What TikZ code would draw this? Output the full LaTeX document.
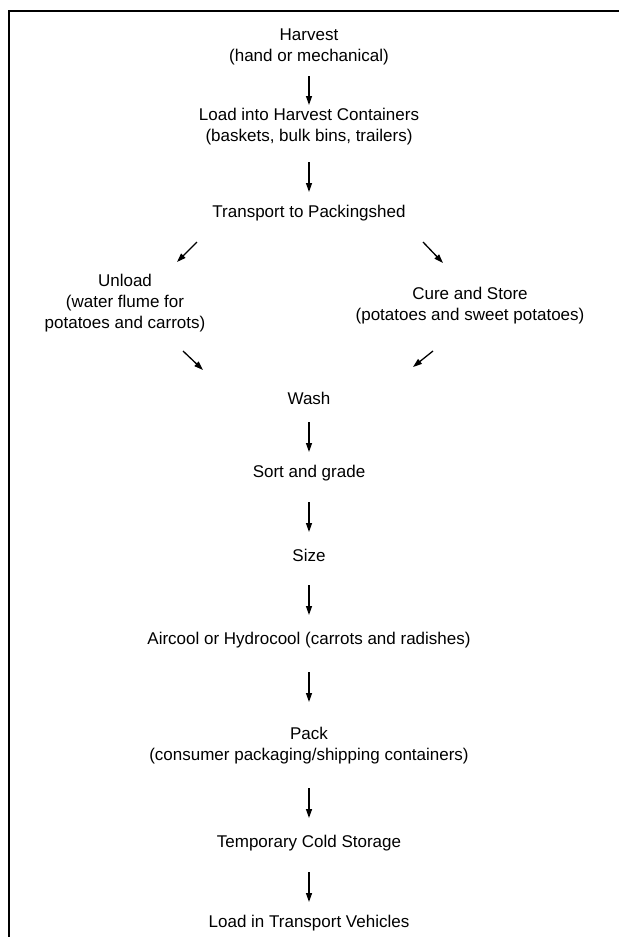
\documentclass[tikz,border=0pt]{standalone}
\usepackage{fontspec}
\setmainfont{Liberation Sans}
\usepackage{tikz}
\usetikzlibrary{calc, arrows.meta}

\tikzset{
    step text/.style={align=center, inner sep=0pt, font=\fontsize{8.5pt}{10.5pt}\selectfont},
    flow/.style={-{Triangle[length=4.5pt, width=3pt]}, line width=0.65pt}
}

\begin{document}
\begin{tikzpicture}[x=0.5pt, y=-0.5pt]
    \useasboundingbox (0,0) rectangle (619,937);

    % 1. Khung (chỉ cạnh trái và cạnh trên)
    \draw[line width=1pt] (9,937) -- (9,11) -- (619,11);

    % 2. Các bước
    \node[step text] (harvest)   at (309, 47)  {Harvest\\(hand or mechanical)};
    \node[step text] (load)      at (309, 127) {Load into Harvest Containers\\(baskets, bulk bins, trailers)};
    \node[step text] (transport) at (309, 213) {Transport to Packingshed};
    \node[step text] (unload)    at (125, 303) {Unload\\(water flume for\\potatoes and carrots)};
    \node[step text] (cure)      at (470, 306) {Cure and Store\\(potatoes and sweet potatoes)};
    \node[step text] (wash)      at (309, 398) {Wash};
    \node[step text] (sort)      at (309, 473) {Sort and grade};
    \node[step text] (size)      at (309, 555) {Size};
    \node[step text] (cool)      at (309, 640) {Aircool or Hydrocool (carrots and radishes)};
    \node[step text] (pack)      at (309, 746) {Pack\\(consumer packaging/shipping containers)};
    \node[step text] (cold)      at (309, 843) {Temporary Cold Storage};
    \node[step text] (vehicles)  at (309, 923) {Load in Transport Vehicles};

    % 3. Mũi tên thẳng đứng (tính từ tâm các nút)
    \draw[flow, shorten <=14.5pt, shorten >=11pt]   (harvest.center) -- (load.center);
    \draw[flow, shorten <=17.5pt, shorten >=10.5pt] (load.center) -- (transport.center);
    \draw[flow, shorten <=12pt, shorten >=10.5pt]   (wash.center) -- (sort.center);
    \draw[flow, shorten <=14.5pt, shorten >=11.5pt] (sort.center) -- (size.center);
    \draw[flow, shorten <=15pt, shorten >=12.5pt]   (size.center) -- (cool.center);
    \draw[flow, shorten <=16pt, shorten >=22pt]     (cool.center) -- (pack.center);
    \draw[flow, shorten <=21pt, shorten >=12.5pt]   (pack.center) -- (cold.center);
    \draw[flow, shorten <=14.5pt, shorten >=10.5pt] (cold.center) -- (vehicles.center);

    % 4. Mũi tên xiên (tách và nhập nhánh)
    \coordinate (tl0) at (197,242); \coordinate (tl1) at (177,262);
    \coordinate (tr0) at (423,242); \coordinate (tr1) at (443,263);
    \coordinate (bl0) at (183,351); \coordinate (bl1) at (203,370);
    \coordinate (br0) at (433,351); \coordinate (br1) at (413,367);
    \draw[flow] (tl0) -- (tl1);
    \draw[flow] (tr0) -- (tr1);
    \draw[flow] (bl0) -- (bl1);
    \draw[flow] (br0) -- (br1);
\end{tikzpicture}
\end{document}
